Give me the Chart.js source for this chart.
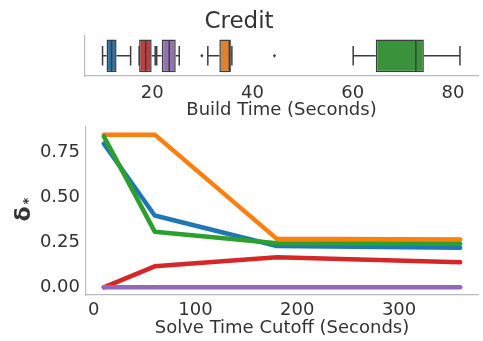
<!DOCTYPE html>
<html>
<head>
<meta charset="utf-8">
<script src="https://cdn.jsdelivr.net/npm/chart.js@4/dist/chart.umd.min.js"></script>
<style>
  html, body { margin: 0; padding: 0; background: #ffffff; }
  #wrap { position: relative; width: 483px; height: 341px; }
  #buildChart { position: absolute; left: 0; top: 0; }
  #solveChart { position: absolute; left: 0; top: 125px; }
</style>
</head>
<body>
<div id="wrap">
  <canvas id="buildChart" width="483" height="125"></canvas>
  <canvas id="solveChart" width="483" height="216"></canvas>
</div>
<script>
// Methods, in palette order
const methods = ['Method A', 'Method B', 'Method C', 'Method D', 'Method E'];
const lineColors = ['#1f77b4', '#ff7f0e', '#2ca02c', '#d62728', '#9467bd'];
const boxColors = ['#3274a1', '#e1812c', '#3a923a', '#c03d3e', '#9372b2'];

// Build time distributions (seconds): whisker ends, quartiles, medians
const buildLow    = [10.1, 31.1, 60.1, 17.4, 20.9];
const buildQ1     = [10.9, 33.4, 64.6, 17.4, 21.9];
const buildMedian = [11.9, 35.4, 72.6, 18.7, 23.4];
const buildQ3     = [12.9, 35.7, 74.2, 19.9, 24.7];
const buildHigh   = [15.7, 35.9, 81.4, 20.6, 25.4];
const buildOutliers = [[], [29.9, 44.4], [], [], []];
const buildTicks = [20, 40, 60, 80];

// delta* versus solve time cutoff
const cutoffs = [10, 60, 180, 360];
const deltaA = [0.80, 0.40, 0.23, 0.22];
const deltaB = [0.85, 0.85, 0.27, 0.267];
const deltaC = [0.84, 0.31, 0.245, 0.243];
const deltaD = [0.00, 0.117, 0.168, 0.14];
const deltaE = [0.00, 0.00, 0.00, 0.00];
const deltaSeries = [deltaA, deltaB, deltaC, deltaD, deltaE];
const cutoffTicks = [0, 100, 200, 300];
const deltaTicks = [0.00, 0.25, 0.50, 0.75];

const FONT = 'DejaVu Sans';
const TEXT = '#333333';
const SPINE = '#bbbbbb';
const EDGE = '#3d3d3d';

// fixed axis box sizes; no extra room reserved for edge tick labels
function fixBox(size) {
  return s => {
    if (s.isHorizontal()) s.height = size; else s.width = size;
    s.paddingLeft = 0; s.paddingRight = 0; s.paddingTop = 0; s.paddingBottom = 0;
  };
}

// whiskers, caps, medians and fliers on top of the floating-bar boxes
const boxWhiskers = {
  id: 'boxWhiskers',
  afterDatasetsDraw(chart) {
    const ctx = chart.ctx;
    const xs = chart.scales.x;
    const px = v => xs.getPixelForValue(v);
    chart.data.datasets.forEach((ds, i) => {
      const bar = chart.getDatasetMeta(i).data[0];
      const y = bar.y, h = bar.height;
      const cap = h * 0.3;
      ctx.save();
      ctx.strokeStyle = EDGE;
      ctx.lineWidth = 1.5;
      ctx.beginPath();
      ctx.moveTo(px(buildLow[i]), y); ctx.lineTo(px(buildQ1[i]), y);
      ctx.moveTo(px(buildQ3[i]), y); ctx.lineTo(px(buildHigh[i]), y);
      ctx.moveTo(px(buildLow[i]), y - cap); ctx.lineTo(px(buildLow[i]), y + cap);
      ctx.moveTo(px(buildHigh[i]), y - cap); ctx.lineTo(px(buildHigh[i]), y + cap);
      ctx.moveTo(px(buildMedian[i]), y - h / 2 + 0.75); ctx.lineTo(px(buildMedian[i]), y + h / 2 - 0.75);
      ctx.stroke();
      ctx.fillStyle = EDGE;
      buildOutliers[i].forEach(v => {
        const x = px(v);
        ctx.beginPath();
        ctx.moveTo(x, y - 2); ctx.lineTo(x + 1.5, y); ctx.lineTo(x, y + 2); ctx.lineTo(x - 1.5, y);
        ctx.closePath();
        ctx.fill();
      });
      ctx.restore();
    });
  }
};

new Chart(document.getElementById('buildChart'), {
  type: 'bar',
  data: {
    labels: ['Credit'],
    datasets: methods.map((m, i) => ({
      label: m,
      data: [[buildQ1[i], buildQ3[i]]],
      backgroundColor: boxColors[i],
      borderColor: EDGE,
      borderWidth: 1.5,
      borderSkipped: false,
      barPercentage: 0.81,
      categoryPercentage: 1,
      grouped: false
    }))
  },
  options: {
    indexAxis: 'y',
    responsive: false,
    animation: false,
    devicePixelRatio: 1,
    layout: { padding: { right: 5 } },
    plugins: {
      legend: { display: false },
      tooltip: { enabled: false },
      title: {
        display: true, text: 'Credit', color: TEXT,
        font: { family: FONT, size: 23, weight: 'normal' },
        padding: { top: 8, bottom: 0 }
      }
    },
    scales: {
      x: {
        type: 'linear', min: 6.6, max: 85,
        grid: { display: false, drawTicks: false },
        border: { color: SPINE, width: 1.2 },
        afterBuildTicks: s => { s.ticks = buildTicks.map(v => ({ value: v })); },
        afterFit: fixBox(49),
        ticks: { color: TEXT, font: { family: FONT, size: 18 }, padding: 7, maxRotation: 0 },
        title: {
          display: true, text: 'Build Time (Seconds)', color: TEXT,
          font: { family: FONT, size: 18 }, padding: { top: 0, bottom: 4 }
        }
      },
      y: {
        grid: { display: false, drawTicks: false },
        border: { color: SPINE, width: 1.2 },
        ticks: { display: false },
        afterFit: fixBox(85)
      }
    }
  },
  plugins: [boxWhiskers]
});

// y-axis label: bold delta with a subscript asterisk
const deltaLabel = {
  id: 'deltaLabel',
  afterDraw(chart) {
    const ctx = chart.ctx;
    const a = chart.chartArea;
    ctx.save();
    ctx.translate(24, (a.top + a.bottom) / 2 + 3);
    ctx.rotate(-Math.PI / 2);
    ctx.fillStyle = TEXT;
    ctx.textAlign = 'center';
    ctx.textBaseline = 'middle';
    ctx.font = 'bold 22px "' + FONT + '"';
    ctx.fillText('δ', 0, 0);
    ctx.font = 'bold 13px "' + FONT + '"';
    ctx.fillText('*', 13, 5);
    ctx.restore();
  }
};

new Chart(document.getElementById('solveChart'), {
  type: 'line',
  data: {
    datasets: deltaSeries.map((s, i) => ({
      label: methods[i],
      data: cutoffs.map((c, j) => ({ x: c, y: s[j] })),
      borderColor: lineColors[i],
      backgroundColor: lineColors[i],
      borderWidth: 4.5,
      pointRadius: 0,
      tension: 0,
      fill: false,
      borderCapStyle: 'round',
      borderJoinStyle: 'round',
      order: deltaSeries.length - i
    }))
  },
  options: {
    responsive: false,
    animation: false,
    devicePixelRatio: 1,
    layout: { padding: { top: 2, right: 5 } },
    plugins: { legend: { display: false }, tooltip: { enabled: false } },
    scales: {
      x: {
        type: 'linear', min: -7.5, max: 377.5,
        grid: { display: false, drawTicks: false },
        border: { color: SPINE, width: 1.2 },
        afterBuildTicks: s => { s.ticks = cutoffTicks.map(v => ({ value: v })); },
        afterFit: fixBox(46),
        ticks: { color: TEXT, font: { family: FONT, size: 18 }, padding: 5, maxRotation: 0, callback: v => String(v) },
        title: {
          display: true, text: 'Solve Time Cutoff (Seconds)', color: TEXT,
          font: { family: FONT, size: 18 }, padding: { top: 0, bottom: 2 }
        }
      },
      y: {
        type: 'linear', min: -0.0425, max: 0.8925,
        grid: { display: false, drawTicks: false },
        border: { color: SPINE, width: 1.2 },
        afterBuildTicks: s => { s.ticks = deltaTicks.map(v => ({ value: v })); },
        afterFit: fixBox(86),
        ticks: { color: TEXT, font: { family: FONT, size: 18 }, padding: 6, callback: v => v.toFixed(2) }
      }
    }
  },
  plugins: [deltaLabel]
});
</script>
</body>
</html>
